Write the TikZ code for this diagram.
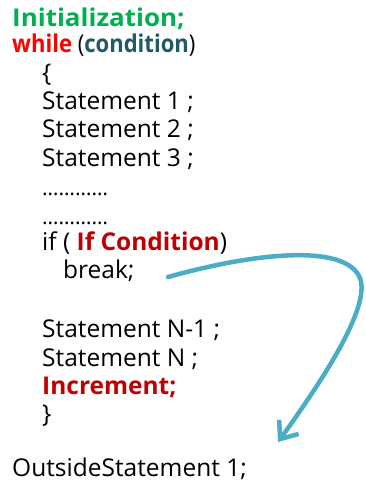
\documentclass[tikz,border=0pt]{standalone}
\usepackage{fontspec}
\setmainfont{Open Sans}
\usetikzlibrary{arrows.meta}
\definecolor{initgreen}{RGB}{0,176,80}
\definecolor{kwred}{RGB}{255,0,0}
\definecolor{condteal}{RGB}{33,89,104}
\definecolor{darkred}{RGB}{192,0,0}
\definecolor{jumpblue}{RGB}{75,172,198}
\tikzset{
  code/.style={anchor=base west, inner sep=0pt, font=\fontsize{24.5}{29}\selectfont},
  filler/.style={code, font=\fontsize{21}{25}\selectfont},
  jump/.style={draw=jumpblue, line width=4.5pt, line cap=round,
    -{Straight Barb[length=15pt,width=24pt,line width=4.5pt]}}
}
\begin{document}
\begin{tikzpicture}[x=1pt,y=-1pt]
  \useasboundingbox (0,0) rectangle (365,486);
  \node[code] (init) at (12,27) {\scalebox{1.06}[1]{\textcolor{initgreen}{\bfseries Initialization;}}};
  \node[code] (loop) at (12,53) {\scalebox{0.9}[1]{\textcolor{kwred}{\bfseries while} (\textcolor{condteal}{\bfseries condition})}};
  \node[code] (open) at (42,82) {\{};
  \node[code] (s1) at (42,110) {Statement 1 ;};
  \node[code] (s2) at (42,138) {Statement 2 ;};
  \node[code] (s3) at (42,167) {Statement 3 ;};
  \node[filler] (d1) at (42,196) {\dots\dots\dots\dots};
  \node[filler] (d2) at (42,224) {\dots\dots\dots\dots};
  \node[code] (cond) at (42,250) {if ( \textcolor{darkred}{\bfseries If Condition})};
  \node[code] (brk) at (63,278) {break;};
  \node[code] (sn1) at (42,337) {Statement N-1 ;};
  \node[code] (sn) at (42,366) {Statement N ;};
  \node[code] (inc) at (42,394) {\textcolor{darkred}{\bfseries Increment;}};
  \node[code] (close) at (42,422) {\}};
  \node[code] (out) at (12,476) {OutsideStatement 1;};
  % jump taken by break
  \coordinate (from) at (168,277);
  \coordinate (to) at (278,442);
  \draw[jump] (from) .. controls (250,254) and (345,242) .. (360,278)
    .. controls (370,305) and (330,370) .. (to);
\end{tikzpicture}
\end{document}
